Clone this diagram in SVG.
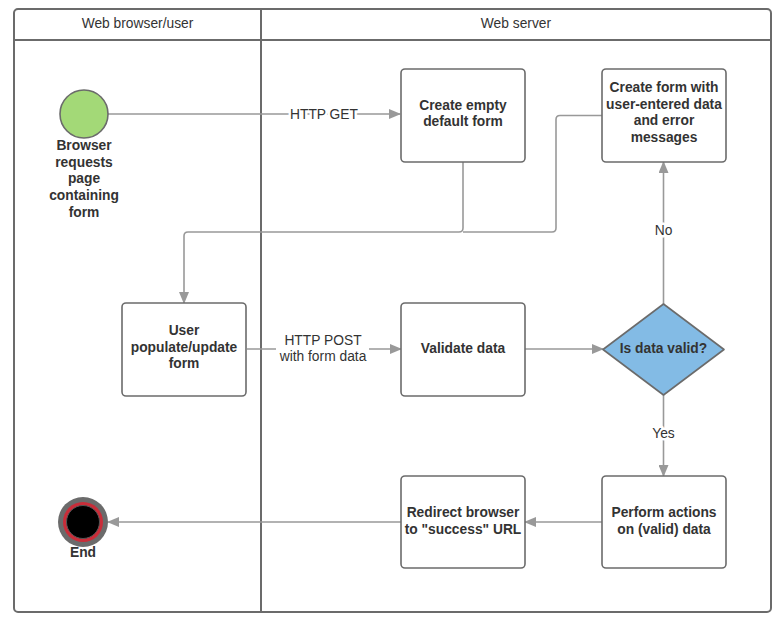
<svg xmlns="http://www.w3.org/2000/svg" width="780" height="628" viewBox="0 0 780 628">
<defs>
<marker id="arr" markerUnits="userSpaceOnUse" markerWidth="12" markerHeight="10" refX="11" refY="5" orient="auto">
<path d="M0,0 L12,5 L0,10 Z" fill="#999"/>
</marker>
<style>
.frame{fill:none;stroke:#6b6b6b;stroke-width:2}
.box{fill:#fff;stroke:#6b6b6b;stroke-width:1.6}
.conn{fill:none;stroke:#999;stroke-width:1.6}
.b{font-family:"Liberation Sans",Arial,sans-serif;font-size:13.8px;font-weight:bold;fill:#333;text-anchor:middle}
.r{font-family:"Liberation Sans",Arial,sans-serif;font-size:13.8px;fill:#333;text-anchor:middle}
.halo{paint-order:stroke;stroke:#fff;stroke-width:5px;stroke-linejoin:round}
</style>
</defs>
<rect width="780" height="628" fill="#fff"/>
<g id="lanes">
<rect class="frame" x="14" y="9" width="757" height="603" rx="4"/>
<line class="frame" x1="14" y1="40" x2="771" y2="40"/>
<line class="frame" x1="261" y1="9" x2="261" y2="612"/>
<text class="r" x="137.5" y="28">Web browser/user</text>
<text class="r" x="516" y="28">Web server</text>
</g>
<g id="connectors">
<path class="conn" d="M108,114 H400" marker-end="url(#arr)"/>
<text class="r halo" x="324" y="119">HTTP GET</text>
<path class="conn" d="M463,162 V228 Q463,232 459,232 H188 Q184,232 184,236 V303" marker-end="url(#arr)"/>
<path class="conn" d="M602,115.5 H560 Q556,115.5 556,119.5 V228 Q556,232 552,232 H463"/>
<path class="conn" d="M247,349 H401" marker-end="url(#arr)"/>
<rect x="276" y="328" width="93" height="36" fill="#fff"/>
<text class="r" x="323" y="345">HTTP POST</text>
<text class="r" x="323" y="361">with form data</text>
<path class="conn" d="M525,349 H603" marker-end="url(#arr)"/>
<path class="conn" d="M663.5,304 V162" marker-end="url(#arr)"/>
<text class="r halo" x="663.5" y="235">No</text>
<path class="conn" d="M663.5,395 V476" marker-end="url(#arr)"/>
<text class="r halo" x="663.5" y="438">Yes</text>
<path class="conn" d="M602,522 H525" marker-end="url(#arr)"/>
<path class="conn" d="M401,522 H108" marker-end="url(#arr)"/>
</g>
<g id="start">
<circle cx="84" cy="114" r="24" fill="#a3d977" stroke="#6b6b6b" stroke-width="1.6"/>
<text class="b" x="84" y="150">Browser</text>
<text class="b" x="84" y="167">requests</text>
<text class="b" x="84" y="183">page</text>
<text class="b" x="84" y="200">containing</text>
<text class="b" x="84" y="217">form</text>
</g>
<g id="create-empty">
<rect class="box" x="401" y="69" width="124" height="93" rx="4"/>
<text class="b" x="463" y="110">Create empty</text>
<text class="b" x="463" y="126">default form</text>
</g>
<g id="create-error">
<rect class="box" x="602" y="69" width="124" height="93" rx="4"/>
<text class="b" x="664" y="92">Create form with</text>
<text class="b" x="664" y="109">user-entered data</text>
<text class="b" x="664" y="125">and error</text>
<text class="b" x="664" y="142">messages</text>
</g>
<g id="user-form">
<rect class="box" x="122" y="303" width="124" height="93" rx="4"/>
<text class="b" x="184" y="335">User</text>
<text class="b" x="184" y="352">populate/update</text>
<text class="b" x="184" y="368">form</text>
</g>
<g id="validate">
<rect class="box" x="401" y="303" width="124" height="93" rx="4"/>
<text class="b" x="463" y="353">Validate data</text>
</g>
<g id="decision">
<path d="M663.5,304 L724,349.5 L663.5,395 L603,349.5 Z" fill="#83bbe5" stroke="#6b6b6b" stroke-width="1.6" stroke-linejoin="round"/>
<text class="b" x="663.5" y="353">Is data valid?</text>
</g>
<g id="perform">
<rect class="box" x="602" y="476" width="124" height="92" rx="4"/>
<text class="b" x="664" y="517">Perform actions</text>
<text class="b" x="664" y="534">on (valid) data</text>
</g>
<g id="redirect">
<rect class="box" x="401" y="476" width="124" height="92" rx="4"/>
<text class="b" x="463" y="517">Redirect browser</text>
<text class="b" x="463" y="534">to "success" URL</text>
</g>
<g id="end">
<circle cx="83" cy="522" r="25" fill="#6b6b6b"/>
<circle cx="83" cy="522" r="20" fill="#c92d39"/>
<circle cx="83" cy="522" r="16.5" fill="#000" stroke="#555" stroke-width="1"/>
<text class="b" x="83" y="557">End</text>
</g>
</svg>
